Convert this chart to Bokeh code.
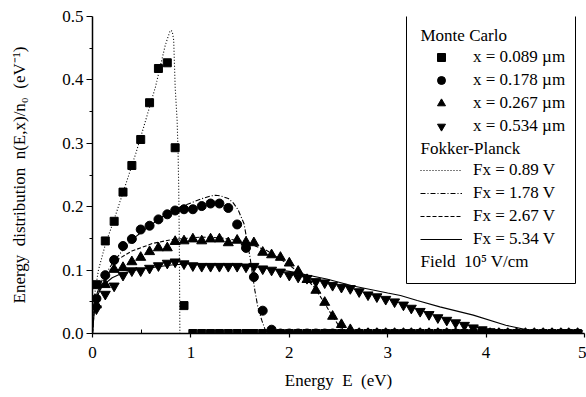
from bokeh.plotting import figure
from bokeh.models import (Range1d, FixedTicker, Legend, LegendItem, Label,
                          BoxAnnotation, PrintfTickFormatter)
from bokeh.embed import file_html
from bokeh.resources import INLINE

# ---------------- data ----------------
energy = [0.04, 0.13, 0.22, 0.31, 0.40, 0.49, 0.58, 0.67, 0.76, 0.84,
          0.93, 1.02, 1.11, 1.20, 1.29, 1.38, 1.47, 1.56, 1.64, 1.73,
          1.82, 1.91, 2.00, 2.09, 2.18, 2.27, 2.36, 2.44, 2.53, 2.62,
          2.71, 2.80, 2.89, 2.98, 3.07, 3.16, 3.24, 3.33, 3.42, 3.51,
          3.60, 3.69, 3.78, 3.87, 3.96, 4.04, 4.13, 4.22, 4.31, 4.40,
          4.49, 4.58, 4.67, 4.76, 4.84, 4.93]

mc_x0089 = [0.077, 0.146, 0.177, 0.223, 0.265, 0.306, 0.364, 0.418, 0.427, 0.293,
            0.044, 0, 0, 0, 0, 0, 0, 0, 0, 0,
            0, 0, 0, 0, 0, 0, 0, 0, 0, 0,
            0, 0, 0, 0, 0, 0, 0, 0, 0, 0,
            0, 0, 0, 0, 0, 0, 0, 0, 0, 0,
            0, 0, 0, 0, 0, 0]
mc_x0178 = [0.055, 0.092, 0.116, 0.138, 0.149, 0.164, 0.170, 0.180, 0.188, 0.194,
            0.196, 0.196, 0.201, 0.205, 0.205, 0.198, 0.172, 0.135, 0.089, 0.036,
            0.006, 0, 0, 0, 0, 0, 0, 0, 0, 0,
            0, 0, 0, 0, 0, 0, 0, 0, 0, 0,
            0, 0, 0, 0, 0, 0, 0, 0, 0, 0,
            0, 0, 0, 0, 0, 0]
mc_x0267 = [0.045, 0.077, 0.101, 0.104, 0.113, 0.120, 0.129, 0.135, 0.135, 0.145,
            0.146, 0.149, 0.146, 0.149, 0.149, 0.143, 0.147, 0.144, 0.143, 0.128,
            0.124, 0.120, 0.111, 0.098, 0.085, 0.068, 0.049, 0.027, 0.014, 0.006,
            0, 0, 0, 0, 0, 0, 0, 0, 0, 0,
            0, 0, 0, 0, 0, 0, 0, 0, 0, 0,
            0, 0, 0, 0, 0, 0]
mc_x0534 = [0.039, 0.062, 0.075, 0.092, 0.099, 0.099, 0.103, 0.107, 0.111, 0.113,
            0.110, 0.107, 0.106, 0.106, 0.106, 0.106, 0.106, 0.105, 0.106, 0.102,
            0.100, 0.097, 0.092, 0.089, 0.087, 0.082, 0.080, 0.076, 0.073, 0.071,
            0.066, 0.061, 0.058, 0.054, 0.050, 0.045, 0.040, 0.035, 0.030, 0.025,
            0.021, 0.017, 0.013, 0.009, 0.006, 0.003, 0.001, 0, 0, 0,
            0, 0, 0, 0, 0, 0]

fp089_e = [0, 0.02, 0.06, 0.13, 0.22, 0.335, 0.44, 0.54, 0.64, 0.74, 0.79, 0.81,
           0.825, 0.84, 0.86, 0.87, 0.876, 0.882, 0.886, 0.888]
fp089_n = [0, 0.06, 0.10, 0.14, 0.18, 0.234, 0.284, 0.336, 0.389, 0.455, 0.478, 0.477,
           0.463, 0.389, 0.336, 0.284, 0.231, 0.15, 0.05, 0]

fp178_e = [0, 0.02, 0.05, 0.1, 0.2, 0.3, 0.4, 0.5, 0.6, 0.7, 0.8, 0.9, 1.0, 1.1,
           1.2, 1.25, 1.3, 1.38, 1.43, 1.48, 1.54, 1.6, 1.65, 1.68, 1.72, 1.75, 1.78]
fp178_n = [0, 0.045, 0.065, 0.085, 0.11, 0.13, 0.148, 0.16, 0.172, 0.183, 0.193, 0.2,
           0.206, 0.212, 0.217, 0.218, 0.217, 0.213, 0.206, 0.195, 0.173, 0.121, 0.068,
           0.042, 0.021, 0.008, 0]

fp267_e = [0, 0.02, 0.05, 0.1, 0.2, 0.27, 0.4, 0.61, 0.8, 0.94, 1.1, 1.3, 1.54,
           1.77, 1.98, 2.11, 2.25, 2.35, 2.42, 2.5, 2.58, 2.67]
fp267_n = [0, 0.04, 0.06, 0.08, 0.105, 0.118, 0.13, 0.142, 0.148, 0.15, 0.152, 0.151,
           0.145, 0.131, 0.11, 0.095, 0.074, 0.05, 0.032, 0.013, 0.004, 0]

fp534_e = [0, 0.02, 0.05, 0.1, 0.2, 0.3, 0.5, 0.8, 1.0, 1.3, 1.6, 2.0, 2.38, 2.65,
           3.0, 3.13, 3.3, 3.53, 3.87, 4.2, 4.5, 4.6, 5.0]
fp534_n = [0, 0.04, 0.06, 0.075, 0.088, 0.095, 0.102, 0.108, 0.11, 0.109, 0.106,
           0.098, 0.086, 0.075, 0.064, 0.06, 0.052, 0.042, 0.029, 0.013, 0.003, 0, 0]

x_ticks = [0, 1, 2, 3, 4, 5]
x_minor = [0.5, 1.5, 2.5, 3.5, 4.5]
y_ticks = [0.0, 0.1, 0.2, 0.3, 0.4, 0.5]
y_minor = [0.05, 0.15, 0.25, 0.35, 0.45]

mc_labels = ["x = 0.089 µm", "x = 0.178 µm", "x = 0.267 µm", "x = 0.534 µm"]
fp_labels = ["Fx = 0.89 V", "Fx = 1.78 V", "Fx = 2.67 V", "Fx = 5.34 V"]
headers = ["Monte Carlo", "Fokker-Planck", "Field\u00a0 10⁵ V/cm"]

# ---------------- figure ----------------
FONT = "Liberation Serif"
FS = "17px"

p = figure(width=586, height=397, output_backend="svg", toolbar_location=None,
           x_range=Range1d(0, 5), y_range=Range1d(0, 0.5),
           min_border_left=92, min_border_right=2, min_border_top=16,
           min_border_bottom=64)
p.outline_line_color = None
p.xgrid.visible = False
p.ygrid.visible = False
p.background_fill_color = "white"

p.xaxis.ticker = FixedTicker(ticks=x_ticks, minor_ticks=x_minor)
p.yaxis.ticker = FixedTicker(ticks=y_ticks, minor_ticks=y_minor)
p.xaxis.formatter = PrintfTickFormatter(format="%d")
p.yaxis.formatter = PrintfTickFormatter(format="%.1f")
p.xaxis.axis_label = "Energy\u00a0 E\u00a0 (eV)"
p.yaxis.axis_label = "Energy\u00a0 distribution\u00a0 n(E,x)/n₀\u00a0 (eV⁻¹)"
for ax in (p.xaxis, p.yaxis):
    ax.axis_line_color = "black"
    ax.axis_line_width = 1.5
    ax.major_tick_line_color = "black"
    ax.minor_tick_line_color = "black"
    ax.major_tick_line_width = 1.2
    ax.major_label_text_font = FONT
    ax.major_label_text_font_size = FS
    ax.major_label_text_color = "black"
    ax.axis_label_text_font = FONT
    ax.axis_label_text_font_size = FS
    ax.axis_label_text_font_style = "normal"
    ax.axis_label_text_color = "black"

p.xaxis.major_tick_out = 4
p.xaxis.major_tick_in = 0
p.xaxis.minor_tick_out = 0
p.xaxis.minor_tick_in = 4
p.xaxis.major_label_standoff = 9
p.xaxis.axis_label_standoff = 10

p.yaxis.major_tick_out = 6
p.yaxis.major_tick_in = 0
p.yaxis.minor_tick_out = 3
p.yaxis.minor_tick_in = 0
p.yaxis.major_label_standoff = 3
p.yaxis.axis_label_standoff = 30

# Fokker-Planck curves
l1 = p.line(fp089_e, fp089_n, line_color="black", line_width=1.1, line_dash="1 2")
l2 = p.line(fp178_e, fp178_n, line_color="black", line_width=1.1, line_dash="5 2 1 2")
l3 = p.line(fp267_e, fp267_n, line_color="black", line_width=1.1, line_dash="4 2")
l4 = p.line(fp534_e, fp534_n, line_color="black", line_width=1.1)

# Monte Carlo markers
m1 = p.scatter(energy, mc_x0089, marker="square", size=8, color="black")
m2 = p.scatter(energy, mc_x0178, marker="circle", size=9, color="black")
m3 = p.scatter(energy, mc_x0267, marker="triangle", size=10, color="black")
m4 = p.scatter(energy, mc_x0534, marker="inverted_triangle", size=10, color="black")

# ---------------- legend ----------------
box = BoxAnnotation(left=314, right=483, bottom=50, top=329,
                    left_units="screen", right_units="screen",
                    top_units="screen", bottom_units="screen",
                    fill_color="white", fill_alpha=1.0,
                    line_color="black", line_width=1, line_alpha=1.0)
p.add_layout(box)

common = dict(glyph_width=42, glyph_height=20, label_height=20, label_standoff=11,
              spacing=3, padding=0, margin=0, border_line_color=None,
              background_fill_alpha=0, label_text_font=FONT,
              label_text_font_size=FS, label_text_color="black")
legA = Legend(items=[LegendItem(label=t, renderers=[r])
                     for t, r in zip(mc_labels, [m1, m2, m3, m4])],
              location=(328, 197), **common)
legB = Legend(items=[LegendItem(label=t, renderers=[r])
                     for t, r in zip(fp_labels, [l1, l2, l3, l4])],
              location=(328, 84), **common)
p.add_layout(legA)
p.add_layout(legB)

for txt, yy in zip(headers, [298, 185, 72]):
    p.add_layout(Label(x=328, y=yy, x_units="screen", y_units="screen", text=txt,
                       text_font=FONT, text_font_size=FS, text_color="black",
                       text_baseline="middle", text_align="left"))

open("out.html", "w").write(file_html(p, INLINE))
